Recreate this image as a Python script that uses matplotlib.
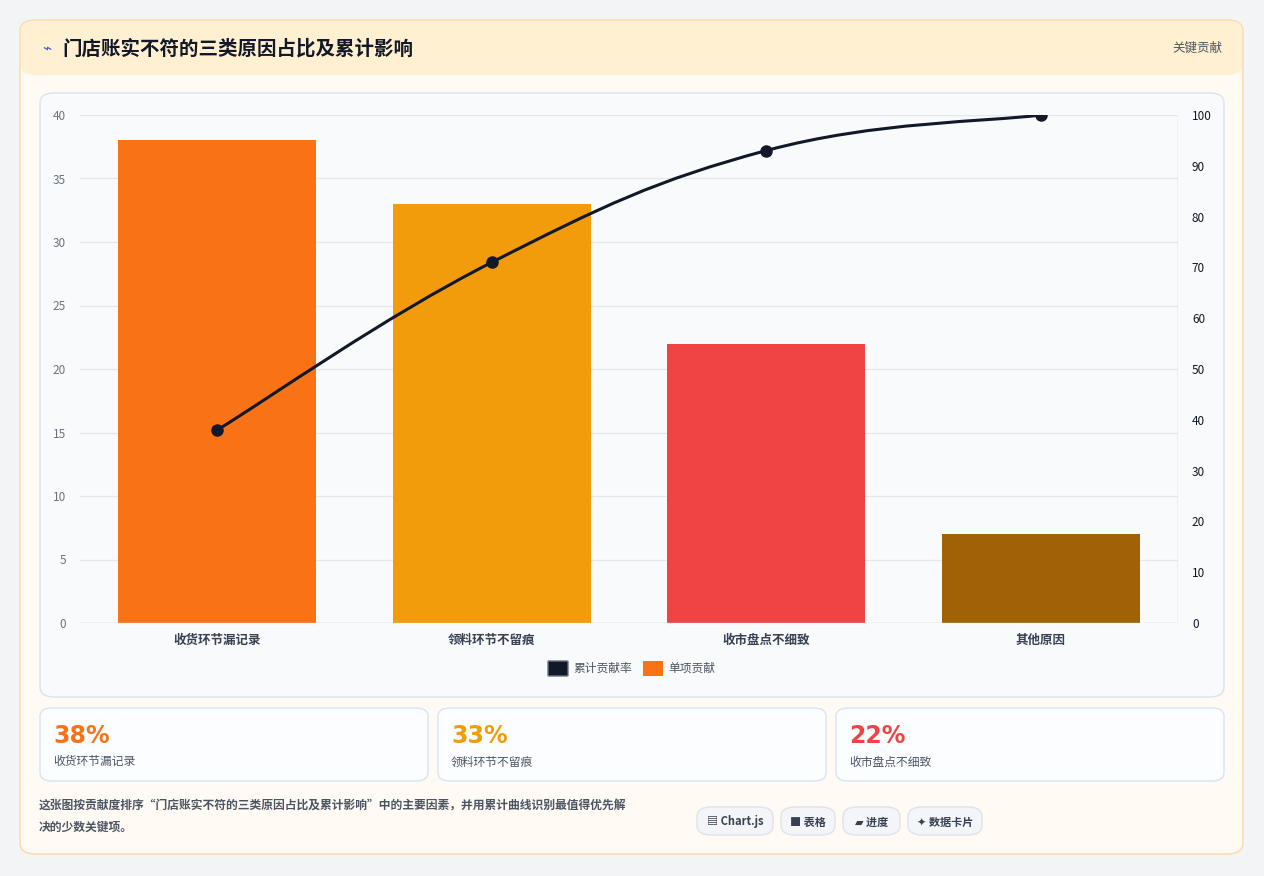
import matplotlib
matplotlib.use("Agg")
import matplotlib.pyplot as plt
from matplotlib.patches import FancyBboxPatch
from matplotlib.path import Path
from matplotlib.patches import PathPatch
import numpy as np

plt.rcParams['font.family'] = ['Noto Sans CJK SC', 'DejaVu Sans']

# ─── Data ─────────────────────────────────────────────────────────────────────
categories = ["收货环节漏记录", "领料环节不留痕", "收市盘点不细致", "其他原因"]
share      = [38, 33, 22, 7]
cumulative = [38, 71, 93, 100]
bar_colors = ["#f97316", "#f39c0b", "#ef4444", "#a16207"]
cards      = [("38%", "收货环节漏记录", "#f97316"),
              ("33%", "领料环节不留痕", "#f39c0b"),
              ("22%", "收市盘点不细致", "#ef4444")]
chips      = ["▤ Chart.js", "■ 表格", "▰ 进度", "✦ 数据卡片"]

W, H = 1264, 876
fig = plt.figure(figsize=(W / 100, H / 100), dpi=100)
fig.patch.set_facecolor("#f3f4f6")


def box(x, y, w, h, fc, ec, r=12, lw=1, z=0):
    # pixel coords, y from top
    p = FancyBboxPatch((x / W, 1 - (y + h) / H), w / W, h / H,
                       boxstyle=f"round,pad=0,rounding_size={r / W}",
                       transform=fig.transFigure, fc=fc, ec=ec, lw=lw, zorder=z)
    fig.add_artist(p)


def txt(x, y, s, **kw):
    fig.text(x / W, 1 - y / H, s, **kw)


# ─── Frame ────────────────────────────────────────────────────────────────────
box(20, 20, 1223, 834, "#fffaf3", "#fcd9a8", r=16)
box(21, 21, 1221, 54, "#fff0d2", "none", r=14)
txt(42, 49, "⌁", color="#3b5bdb", fontsize=11, va="center")
txt(62, 49, "门店账实不符的三类原因占比及累计影响", fontsize=14, weight="bold",
    color="#111827", va="center")
txt(1222, 48, "关键贡献", fontsize=9, color="#4b5563", ha="right", va="center")

box(40, 93, 1184, 604, "#f9fafb", "#dbe3ee", r=14)

# ─── Chart ────────────────────────────────────────────────────────────────────
ax = fig.add_axes([80 / W, 1 - 623 / H, 1098 / W, 508 / H])
ax.set_facecolor("none")
x = np.arange(len(categories))
ax.bar(x, share, width=0.72, color=bar_colors, zorder=2)
ax.set_xlim(-0.5, len(categories) - 0.5)
ax.set_ylim(0, 40)
ax.set_yticks(range(0, 41, 5))
ax.set_xticks(x)
ax.set_xticklabels(categories, fontsize=9, weight="bold", color="#374151")
ax.tick_params(axis="y", labelsize=8.5, colors="#6b7280", length=0, pad=10)
ax.tick_params(axis="x", length=0, pad=8)
ax.grid(axis="y", color="#e3e8f0", lw=0.9, zorder=0)
for s in ax.spines.values():
    s.set_visible(False)
ax.axhline(0, color="#d1d5db", lw=1)

ax2 = ax.twinx()
ax2.set_ylim(0, 100)
ax2.set_yticks(range(0, 101, 10))
ax2.tick_params(axis="y", labelsize=8.5, colors="#111827", length=0, pad=10)
for s in ax2.spines.values():
    s.set_visible(False)
ax2.axvline(len(categories) - 0.5, color="#d1d5db", lw=1)

# smooth curve through the cumulative points (Chart.js style tension)
pts = np.column_stack([x, cumulative]).astype(float)
verts, codes = [pts[0]], [Path.MOVETO]
t = 0.4
for i in range(len(pts) - 1):
    p0 = pts[i - 1] if i > 0 else pts[i]
    p3 = pts[i + 2] if i + 2 < len(pts) else pts[i + 1]
    c1 = pts[i] + (pts[i + 1] - p0) * t / 2
    c2 = pts[i + 1] - (p3 - pts[i]) * t / 2
    verts += [c1, c2, pts[i + 1]]
    codes += [Path.CURVE4] * 3
ax2.add_patch(PathPatch(Path(verts, codes), fc="none", ec="#111827", lw=2.2, zorder=3))
ax2.plot(x, cumulative, "o", color="#111827", ms=8, zorder=4)

# legend
box(548, 661, 20, 15, "#111827", "#6b7280", r=1)
txt(573, 668, "累计贡献率", fontsize=8.5, color="#4b5563", va="center")
box(643, 661, 20, 15, "#f97316", "none", r=1)
txt(668, 668, "单项贡献", fontsize=8.5, color="#4b5563", va="center")

# ─── Cards ────────────────────────────────────────────────────────────────────
for i, (val, lab, col) in enumerate(cards):
    cx = 40 + i * 398
    box(cx, 708, 388, 73, "#fbfdff", "#d6e4f5", r=12)
    txt(cx + 13, 736, val, fontsize=17, weight="bold", color=col, va="center",
        family="DejaVu Sans")
    txt(cx + 13, 762, lab, fontsize=8.5, color="#4b5563", va="center")

txt(39, 806, "这张图按贡献度排序“门店账实不符的三类原因占比及累计影响”中的主要因素，并用累计曲线识别最值得优先解",
    fontsize=8.5, weight="bold", color="#4b5563", va="center")
txt(39, 827, "决的少数关键项。", fontsize=8.5, weight="bold", color="#4b5563", va="center")

cx = 697
for c in chips:
    w = 12 + len(c) * 10 if "Chart" not in c else 76
    w = {0: 76, 1: 54, 2: 57, 3: 74}[chips.index(c)]
    box(cx, 807, w, 28, "#f3f5f8", "#dfe3ea", r=14)
    txt(cx + w / 2, 822, c, fontsize=8, weight="bold", color="#374151",
        ha="center", va="center")
    cx += w + 8

fig.savefig("out.png", dpi=100, facecolor=fig.get_facecolor())
